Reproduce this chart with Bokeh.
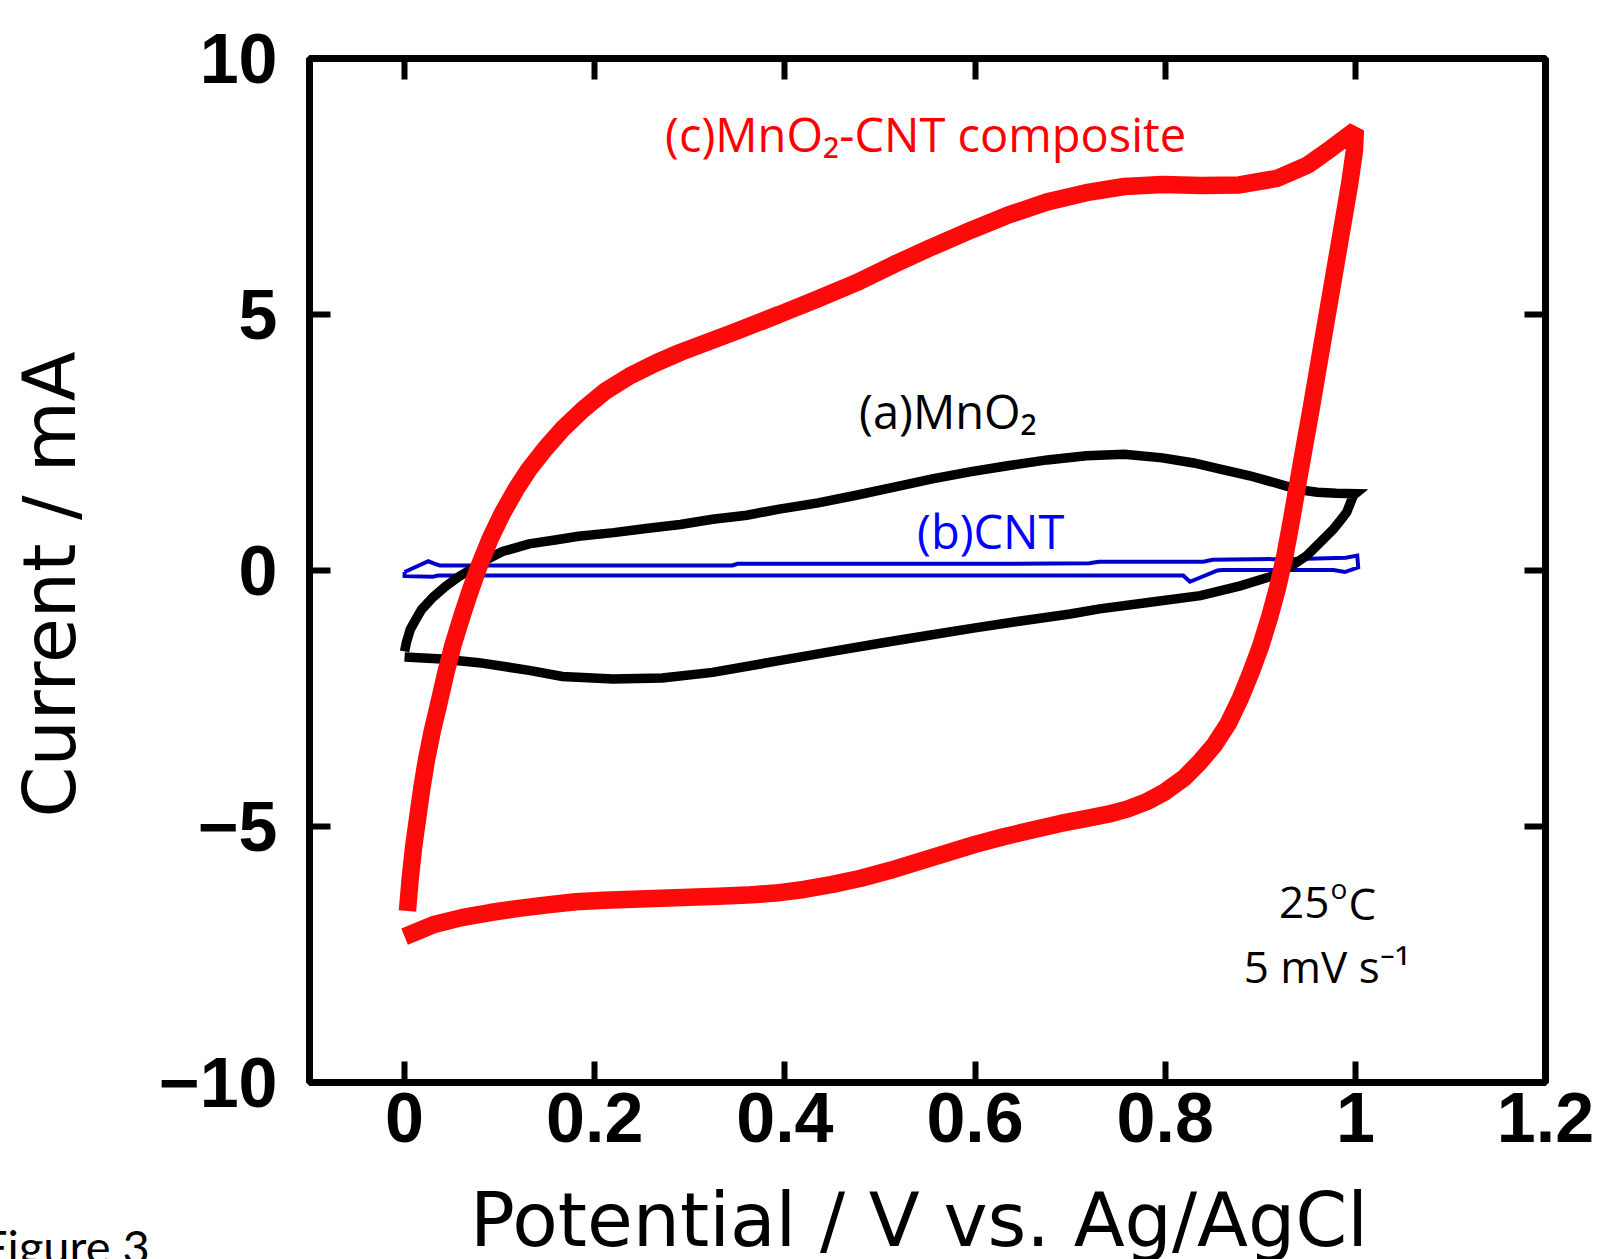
import math
from bokeh.plotting import figure
from bokeh.models import LinearAxis, FixedTicker, Range1d, Label, ColumnDataSource
from bokeh.embed import file_html
from bokeh.resources import INLINE

# ---------------- data ----------------
# (c) MnO2-CNT composite: anodic sweep, then cathodic sweep
composite_x = [0.003, 0.006, 0.0095, 0.014, 0.018, 0.023, 0.029, 0.036, 0.043, 0.051,
               0.060, 0.069, 0.078, 0.090, 0.103, 0.117, 0.131, 0.148, 0.166, 0.188,
               0.211, 0.237, 0.264, 0.290, 0.320, 0.350, 0.394, 0.434, 0.475, 0.515,
               0.555, 0.596, 0.636, 0.676, 0.717, 0.757, 0.797, 0.838, 0.878, 0.918,
               0.950, 0.975, 1.000,
               0.999, 0.994, 0.988, 0.982, 0.976, 0.970, 0.964, 0.958, 0.952, 0.946,
               0.940, 0.933, 0.926, 0.918, 0.910, 0.900, 0.890, 0.879, 0.866, 0.852,
               0.836, 0.820, 0.800, 0.780, 0.760, 0.740, 0.715, 0.690, 0.660, 0.630,
               0.600, 0.570, 0.540, 0.510, 0.480, 0.450, 0.420, 0.390, 0.360, 0.330,
               0.300, 0.270, 0.240, 0.210, 0.180, 0.150, 0.120, 0.090, 0.060, 0.030,
               0.000]
composite_y = [-6.65, -6.00, -5.40, -4.80, -4.27, -3.70, -3.15, -2.60, -2.03, -1.45,
               -0.91, -0.40, 0.07, 0.62, 1.12, 1.58, 1.98, 2.38, 2.76, 3.15,
               3.50, 3.80, 4.05, 4.26, 4.47, 4.68, 5.00, 5.30, 5.62, 5.98,
               6.32, 6.65, 6.95, 7.20, 7.38, 7.50, 7.54, 7.52, 7.53, 7.66,
               7.92, 8.25, 8.60,
               8.20, 7.55, 6.90, 6.25, 5.60, 4.95, 4.30, 3.65, 3.00, 2.38,
               1.75, 1.00, 0.30, -0.35, -0.90, -1.50, -2.00, -2.50, -3.00, -3.40,
               -3.75, -4.05, -4.32, -4.52, -4.66, -4.76, -4.85, -4.94, -5.07, -5.20,
               -5.35, -5.52, -5.69, -5.86, -6.01, -6.13, -6.23, -6.30, -6.34, -6.36,
               -6.38, -6.40, -6.42, -6.44, -6.47, -6.53, -6.60, -6.68, -6.78, -6.92,
               -7.15]

# (a) MnO2
mno2_x = [0.000, 0.002, 0.006, 0.012, 0.018, 0.030, 0.043, 0.057, 0.071, 0.087,
          0.103, 0.131, 0.160, 0.183, 0.220, 0.254, 0.290, 0.324, 0.360, 0.394,
          0.435, 0.475, 0.515, 0.555, 0.596, 0.636, 0.676, 0.717, 0.757, 0.797,
          0.830, 0.858, 0.889, 0.918, 0.940, 0.960, 0.980, 1.000,
          0.998, 0.991, 0.984, 0.977, 0.963, 0.949, 0.932, 0.914, 0.879, 0.837,
          0.784, 0.731, 0.700, 0.650, 0.600, 0.550, 0.500, 0.450, 0.391, 0.324,
          0.271, 0.219, 0.166, 0.131, 0.078, 0.039, 0.000]
mno2_y = [-1.58, -1.40, -1.15, -0.95, -0.76, -0.52, -0.31, -0.12, 0.03, 0.22,
          0.37, 0.52, 0.60, 0.67, 0.74, 0.82, 0.90, 1.00, 1.08, 1.20,
          1.32, 1.47, 1.63, 1.79, 1.93, 2.05, 2.16, 2.24, 2.27, 2.20,
          2.10, 1.98, 1.85, 1.70, 1.58, 1.53, 1.51, 1.50,
          1.47, 1.14, 0.97, 0.81, 0.55, 0.29, 0.08, -0.10, -0.30, -0.49,
          -0.62, -0.75, -0.85, -0.98, -1.12, -1.27, -1.42, -1.58, -1.77, -1.99,
          -2.10, -2.12, -2.07, -1.95, -1.80, -1.73, -1.69]

# (b) CNT
cnt_x = [0.000, 0.025, 0.032, 0.037, 0.150, 0.345, 0.350, 0.600, 0.720, 0.730,
         0.840, 0.850, 0.950, 0.990, 1.002, 1.003, 0.989, 0.977, 0.860, 0.855,
         0.826, 0.819, 0.600, 0.400, 0.200, 0.035, 0.030, 0.000, 0.000]
cnt_y = [-0.03, 0.18, 0.13, 0.10, 0.10, 0.10, 0.13, 0.13, 0.14, 0.17,
         0.17, 0.21, 0.23, 0.25, 0.29, 0.06, -0.03, 0.01, 0.01, 0.00,
         -0.22, -0.10, -0.10, -0.10, -0.10, -0.10, -0.12, -0.11, -0.03]

x_ticks = [0, 0.2, 0.4, 0.6, 0.8, 1, 1.2]
x_tick_labels = ["0", "0.2", "0.4", "0.6", "0.8", "1", "1.2"]
y_ticks = [-10, -5, 0, 5, 10]
y_tick_labels = ["\u221210", "\u22125", "0", "5", "10"]

x_title = "Potential / V vs. Ag/AgCl"
y_title = "Current / mA"

# ---------------- figure ----------------
p = figure(width=1603, height=1259, output_backend="svg", toolbar_location=None,
           x_range=Range1d(-0.1, 1.2), y_range=Range1d(-10, 10),
           min_border_left=309, min_border_right=58, min_border_top=58,
           min_border_bottom=177)
p.grid.visible = False
p.outline_line_color = "black"
p.outline_line_width = 7
p.background_fill_color = "white"
p.border_fill_color = "white"

p.add_layout(LinearAxis(), "above")
p.add_layout(LinearAxis(), "right")

for ax in p.xaxis:
    ax.ticker = FixedTicker(ticks=x_ticks)
    ax.major_label_overrides = dict(zip(x_ticks, x_tick_labels))
for ax in p.yaxis:
    ax.ticker = FixedTicker(ticks=y_ticks)
    ax.major_label_overrides = dict(zip(y_ticks, y_tick_labels))

for ax in p.axis:
    ax.axis_line_color = None
    ax.major_tick_in = 21
    ax.major_tick_out = 0
    ax.major_tick_line_width = 6
    ax.major_tick_line_color = "black"
    ax.minor_tick_line_color = None
    ax.major_label_text_font = "Liberation Sans"
    ax.major_label_text_font_style = "bold"
    ax.major_label_text_font_size = "70px"
    ax.major_label_text_color = "black"

for ax in p.above + p.right:
    ax.major_label_text_font_size = "0px"
    ax.major_label_standoff = 0

p.below[0].major_label_standoff = 10
p.left[0].major_label_standoff = 32

# ---------------- curves ----------------
p.line(x="x", y="y", source=ColumnDataSource(dict(x=cnt_x, y=cnt_y)),
       line_color="#0000cc", line_width=4, line_join="miter")
p.line(x="x", y="y", source=ColumnDataSource(dict(x=mno2_x, y=mno2_y)),
       line_color="black", line_width=9.5, line_join="miter", line_cap="butt")
p.line(x="x", y="y", source=ColumnDataSource(dict(x=composite_x, y=composite_y)),
       line_color="#ff0a0a", line_width=17.5, line_join="bevel", line_cap="butt")

# ---------------- annotations ----------------
def make_label(x, y, text, color, size, align="left", font="Open Sans",
               x_offset=0, y_offset=0, angle=0):
    return Label(x=x, y=y, text=text, text_font=font,
                 text_font_size=size, text_color=color,
                 text_align=align, text_baseline="alphabetic",
                 x_offset=x_offset, y_offset=y_offset, angle=angle)

p.add_layout(make_label(0.274, 8.52, "(c)MnO\u2082-CNT composite", "#ff0000", "47px"))
p.add_layout(make_label(0.478, 3.12, "(a)MnO\u2082", "black", "47px"))
p.add_layout(make_label(0.539, 0.78, "(b)CNT", "#0000ff", "47px"))
p.add_layout(make_label(0.9727, -6.49, "25", "black", "44px", "right"))
p.add_layout(make_label(0.9727, -6.49, "o", "black", "28px", "left", x_offset=1, y_offset=15))
p.add_layout(make_label(0.9727, -6.49, "C", "black", "44px", "left", x_offset=19))
p.add_layout(make_label(0.970, -7.72, "5 mV s\u207b\u00b9", "black", "44px", "center"))

# texts outside the frame sit in side panels (side panels are not clipped)
p.add_layout(make_label(0.541, -12.70, x_title, "black", "74.5px", "center",
                        font="DejaVu Sans"), "below")
p.add_layout(make_label(-0.3736, -0.27, y_title, "black", "73px", "center",
                        font="DejaVu Sans", angle=math.pi / 2), "left")
p.add_layout(make_label(-0.268, -13.19, "Figure 3", "black", "47px", "right",
                        font="Lato"), "above")

open("out.html", "w").write(file_html(p, INLINE))
